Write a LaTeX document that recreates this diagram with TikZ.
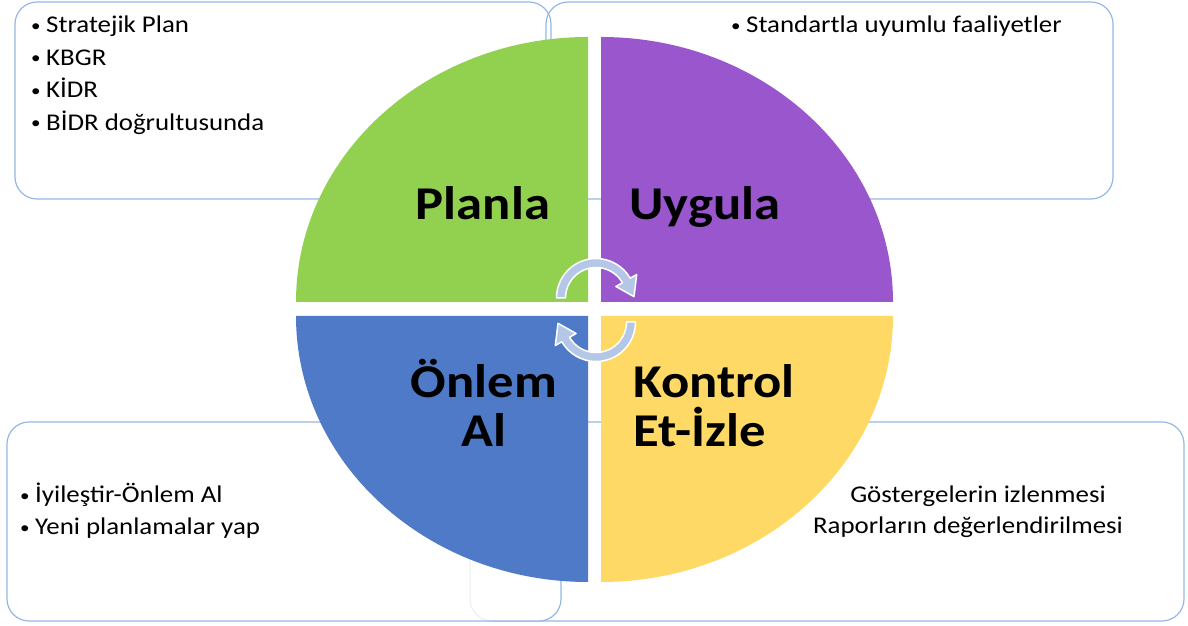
\documentclass[tikz,border=0pt]{standalone}
\usepackage{fontspec}
\setmainfont[FakeStretch=1.12]{Carlito}
\usetikzlibrary{calc}

\definecolor{planlaG}{HTML}{92D050}
\definecolor{uygulaP}{HTML}{9A57CD}
\definecolor{onlemB}{HTML}{4E7AC7}
\definecolor{kontrolY}{HTML}{FFD966}
\definecolor{boxline}{HTML}{95B8E3}
\definecolor{cyclefill}{HTML}{B4C7E7}

\newcommand{\itm}[1]{\makebox[15pt][l]{\raisebox{1.5pt}{\fontsize{17}{17}\selectfont\textbullet}}#1}

\tikzset{
  info/.style={draw=boxline, line width=1.2pt, rounded corners=22pt},
  note/.style={font=\fontsize{24}{32.5}\selectfont, inner sep=0pt, anchor=base west},
  phase/.style={font=\bfseries\fontsize{47}{49}\selectfont, inner sep=0pt, anchor=base},
  cyclearrow/.style={fill=cyclefill, draw=white, line width=1.5pt, line join=round}
}

\begin{document}
\begin{tikzpicture}[x=1pt,y=1pt]
\useasboundingbox (0,0) rectangle (1188,626);

% text boxes behind the circle
\draw[info] (15,427) rectangle (551,624);
\draw[info] (546,427) rectangle (1113,624);
\draw[info] (470,5) rectangle (1184,204);
\draw[info, fill=white, fill opacity=.8] (7,5) rectangle (561,204);

% four quarters
\fill[planlaG] (588,324) -- (296,324) arc[start angle=180, end angle=90, x radius=292, y radius=265] -- cycle;
\fill[uygulaP] (601,324) -- (601,589) arc[start angle=90, end angle=0, x radius=292, y radius=265] -- cycle;
\fill[onlemB] (588,310) -- (588,44) arc[start angle=270, end angle=180, x radius=292, y radius=266] -- cycle;
\fill[kontrolY] (601,310) -- (893,310) arc[start angle=0, end angle=-90, x radius=292, y radius=266] -- cycle;

% phase names (base = last line)
\node[phase] (planla) at (483,406) {Planla};
\node[phase] (uygula) at (705,406) {Uygula};
\node[phase, align=center] (onlem) at (484,179) {Önlem\\Al};
\node[phase, align=left, anchor=base west] (kontrol) at (633,179) {Kontrol\\Et-İzle};

% notes
\foreach \t [count=\i from 0] in {Stratejik Plan, KBGR, KİDR, BİDR doğrultusunda}
  \node[note] (plan\i) at (31,593-32.5*\i) {\itm{\t}};
\node[note] (uyg0) at (731,593) {\itm{Standartla uyumlu faaliyetler}};
\node[note] (onl0) at (20,123) {\itm{İyileştir-Önlem Al}};
\node[note] (onl1) at (20,91) {\itm{Yeni planlamalar yap}};
\node[note, anchor=base] (kon0) at (978,123) {Göstergelerin izlenmesi};
\node[note, anchor=base] (kon1) at (968,92) {Raporların değerlendirilmesi};

% cycle arrows
\coordinate (c1) at (596,328);
\coordinate (c2) at (596,304);
\draw[cyclearrow] ($(c1)+(180:39.5)$) arc[start angle=180, end angle=30, radius=39.5]
  -- ($(c1)+(30:47)$) -- ($(c1)+(2:38)$) -- ($(c1)+(30:23)$) -- ($(c1)+(30:30.5)$)
  arc[start angle=30, end angle=180, radius=30.5] -- cycle;
\draw[cyclearrow] ($(c2)+(0:39.5)$) arc[start angle=0, end angle=-150, radius=39.5]
  -- ($(c2)+(-150:47)$) -- ($(c2)+(-178:38)$) -- ($(c2)+(-150:23)$) -- ($(c2)+(-150:30.5)$)
  arc[start angle=-150, end angle=0, radius=30.5] -- cycle;
\end{tikzpicture}
\end{document}
